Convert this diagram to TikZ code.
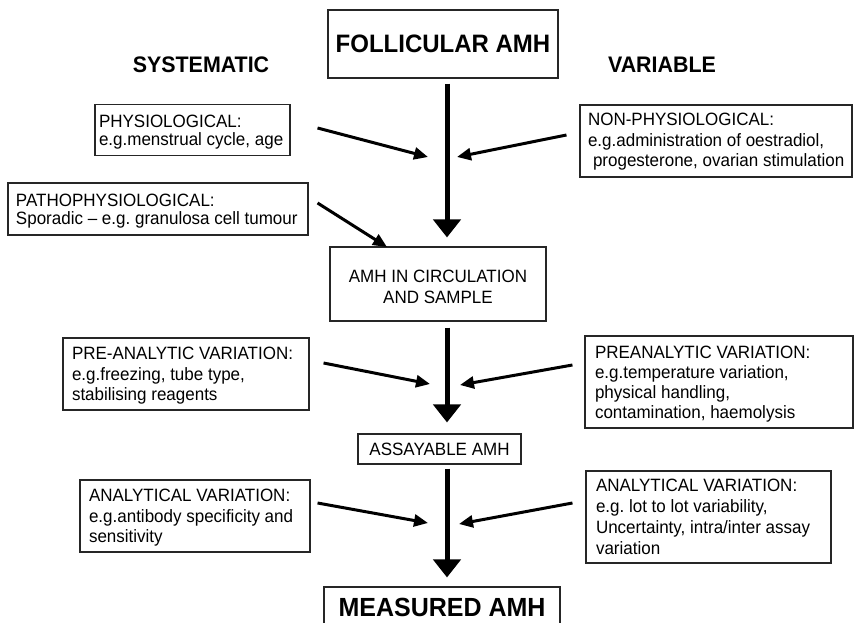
\documentclass[tikz,border=0pt]{standalone}
\usepackage{fontspec}
\usepackage{graphicx}
\setmainfont{Liberation Sans}
\usetikzlibrary{arrows.meta,calc}
\frenchspacing
\newcommand{\boxtxt}[3]{\raisebox{-#2pt}[\height][\depth]{\makebox[#1][l]{\scalebox{1}[1.05]{\begin{tabular}{@{}l@{}}#3\end{tabular}}}}}
\newcommand{\ctrtxt}[2]{\raisebox{-#1pt}[\height][\depth]{\scalebox{1}[1.05]{\begin{tabular}{@{}c@{}}#2\end{tabular}}}}
\newcommand{\tall}[1]{\scalebox{1}[1.05]{#1}}
\begin{document}
\begin{tikzpicture}[x=1pt,y=-1pt,
  bx/.style={draw=black!85,line width=1.1pt,inner ysep=0pt,font=\fontsize{17}{19.2}\selectfont},
  tightbx/.style={bx,font=\fontsize{17}{16}\selectfont},
  mainarrow/.style={line width=5pt,-{Triangle[width=27pt,length=18pt]}},
  sidearrow/.style={line width=3pt,-{Triangle[width=12pt,length=14pt]}},
  headtext/.style={inner sep=0pt,font=\fontsize{21.4}{24}\selectfont\bfseries},
  bigbox/.style={bx,inner sep=0pt,font=\fontsize{24}{26}\selectfont\bfseries}]
\useasboundingbox (0,0) rectangle (855,623);
\fill[white] (0,0) rectangle (855,623);
\clip (0,0) rectangle (855,623);

% headings
\node[headtext] (sys) at (201,64.5) {\tall{SYSTEMATIC}};
\node[headtext] (var) at (662,64.5) {\tall{VARIABLE}};

% central boxes
\node[bigbox,minimum width=230pt,minimum height=68pt] (foll) at (443,44) {\tall{FOLLICULAR AMH}};
\node[bx,minimum width=216pt,minimum height=74pt] (circ) at (438,284) {\ctrtxt{5}{AMH IN CIRCULATION\\AND SAMPLE}};
\node[bx,minimum width=163pt,minimum height=30pt] (assay) at (439.5,449) {\tall{ASSAYABLE AMH}};
\node[bigbox,minimum width=236pt,minimum height=41pt,font=\fontsize{25}{27}\selectfont\bfseries] (meas) at (442,607.5) {\tall{MEASURED AMH}};

% side boxes
\node[tightbx,inner xsep=4pt,minimum height=51pt] (phys) at (192.5,130)
  {\boxtxt{187pt}{3}{PHYSIOLOGICAL:\\e.g.menstrual cycle, age}};
\node[tightbx,inner xsep=8pt,minimum height=52pt] (patho) at (158,209)
  {\boxtxt{284pt}{3}{PATHOPHYSIOLOGICAL:\\Sporadic -- e.g. granulosa cell tumour}};
\node[bx,inner xsep=8pt,minimum height=72pt] (nonphys) at (716,141)
  {\boxtxt{256pt}{1}{NON-PHYSIOLOGICAL:\\e.g.administration of oestradiol,\\\hspace*{5pt}progesterone, ovarian stimulation}};
\node[bx,inner xsep=9pt,minimum height=72pt] (preL) at (186,374)
  {\boxtxt{228pt}{2}{PRE-ANALYTIC VARIATION:\\e.g.freezing, tube type,\\stabilising reagents}};
\node[bx,inner xsep=10pt,minimum height=92pt] (preR) at (719,382)
  {\boxtxt{248pt}{2.5}{PREANALYTIC VARIATION:\\e.g.temperature variation,\\physical handling,\\contamination, haemolysis}};
\node[bx,inner xsep=9pt,minimum height=72pt] (anaL) at (195,516)
  {\boxtxt{212pt}{2}{ANALYTICAL VARIATION:\\e.g.antibody specificity and\\sensitivity}};
\node[bx,inner xsep=10pt,minimum height=92pt,font=\fontsize{17}{20}\selectfont] (anaR) at (708.5,517)
  {\boxtxt{225pt}{2}{ANALYTICAL VARIATION:\\e.g. lot to lot variability,\\Uncertainty, intra/inter assay\\variation}};

% main vertical arrows
\coordinate (mx) at (447,0);
\draw[mainarrow] ($(foll.south -| mx)+(0,5)$) -- ($(circ.north -| mx)+(0,-9)$);
\draw[mainarrow] ($(circ.south -| mx)+(0,6)$) -- ($(assay.north -| mx)+(0,-11)$);
\draw[mainarrow] ($(assay.south -| mx)+(0,4)$) -- ($(meas.north -| mx)+(0,-9)$);

% tips of side arrows
\coordinate (t1) at (428,157);
\coordinate (t2) at (387,247);
\coordinate (t3) at (457,157);
\coordinate (t4) at (430,384);
\coordinate (t5) at (460,385);
\coordinate (t6) at (428,523);
\coordinate (t7) at (459,524);

\draw[sidearrow] ($(phys.east)+(27,-2)$) -- (t1);
\draw[sidearrow] ($(patho.east)+(9,-6)$) -- (t2);
\draw[sidearrow] ($(nonphys.west)+(-13,-6)$) -- (t3);
\draw[sidearrow] ($(preL.east)+(14,-11)$) -- (t4);
\draw[sidearrow] ($(preR.west)+(-12,-17)$) -- (t5);
\draw[sidearrow] ($(anaL.east)+(7,-13)$) -- (t6);
\draw[sidearrow] ($(anaR.west)+(-13,-14)$) -- (t7);
\end{tikzpicture}
\end{document}
